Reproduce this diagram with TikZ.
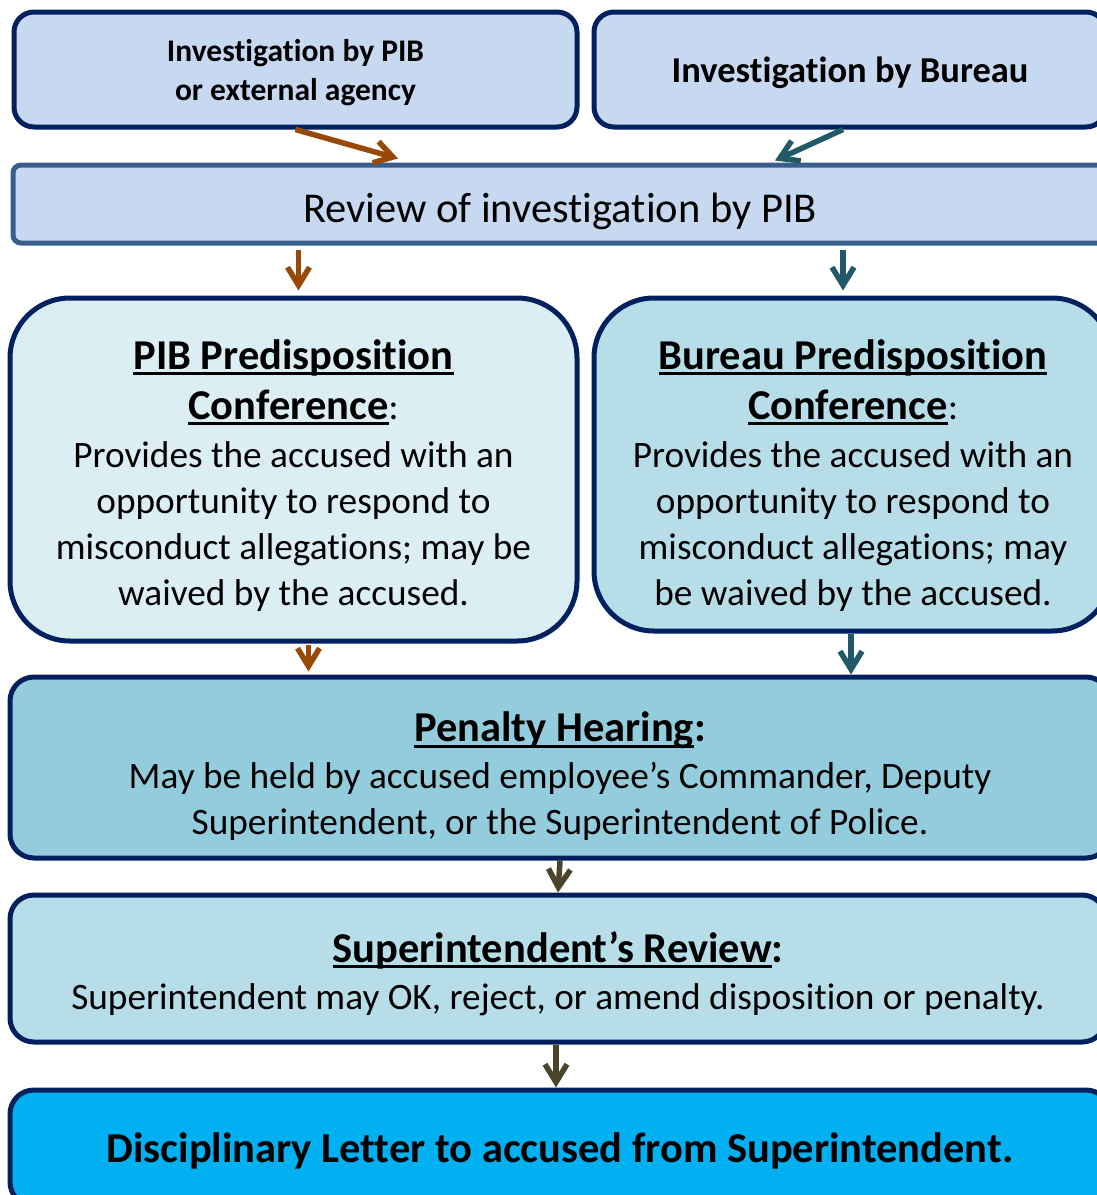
\documentclass[tikz,border=0pt]{standalone}
\usepackage{fontspec}
\setmainfont{Carlito}[Ligatures=NoCommon]
\usetikzlibrary{arrows.meta}
\definecolor{navy}{HTML}{002060}
\definecolor{steel}{HTML}{3A5E8C}
\definecolor{paleblue}{HTML}{C6D9F1}
\definecolor{iceblue}{HTML}{DBEEF4}
\definecolor{aquablue}{HTML}{B7DEE8}
\definecolor{midblue}{HTML}{93CDDD}
\definecolor{brightblue}{HTML}{00B0F0}
\definecolor{arrbrown}{HTML}{984807}
\definecolor{arrteal}{HTML}{215968}
\definecolor{arrolive}{HTML}{4A452A}
\newcommand{\hd}[1]{\setbox0\hbox{\fontsize{42.5}{50}\selectfont\bfseries #1}\rlap{\rule[-6pt]{\wd0}{3pt}}\box0}
\begin{document}
\begin{tikzpicture}[x=1pt,y=-1pt,>={Straight Barb[length=18pt,width=22pt]},
	box/.style={draw=navy, line width=5pt, inner sep=0pt},
	txt/.style={align=center, inner sep=0pt},
	body/.style={txt, font=\fontsize{37.3}{46}\selectfont},
	brownarr/.style={->, draw=arrbrown, line width=5.5pt},
	tealarr/.style={->, draw=arrteal, line width=5.5pt},
	olivearr/.style={->, draw=arrolive, line width=5.5pt}]
	\useasboundingbox (0,0) rectangle (1097,1195);
	
	% top row
	\node[box, fill=paleblue, rounded corners=20pt, minimum width=563pt, minimum height=115pt] (pibinv) at (295.5,69.5) {};
	\node[txt, font=\fontsize{31.5}{39}\selectfont\bfseries] (pibinvtxt) at ([yshift=-3pt]pibinv.center)
		{Investigation by PIB\\ or external agency};
	\node[box, fill=paleblue, rounded corners=20pt, minimum width=512pt, minimum height=115pt] (bureauinv) at (850,69.5) {};
	\node[txt, font=\fontsize{36.5}{40}\selectfont\bfseries] (bureauinvtxt) at ([yshift=-3pt]bureauinv.center)
		{Investigation by Bureau};
	\node[box, draw=steel, fill=paleblue, rounded corners=8pt, minimum width=1094pt, minimum height=78pt] (review) at (560,204) {};
	\node[txt, font=\fontsize{42.5}{46}\selectfont] (reviewtxt) at ([yshift=-7pt]review.center)
		{Review of investigation by PIB};
	
	% predisposition conferences
	\node[box, fill=iceblue, rounded corners=60pt, minimum width=567pt, minimum height=343pt] (pibpre) at (293.5,469.5) {};
	\node[body] (pibpretxt) at ([yshift=-6pt]pibpre.center)
		{\hd{PIB Predisposition}\\[4pt] \hd{Conference}:\\[2pt] Provides the accused with an\\ opportunity to respond to\\ misconduct allegations; may be\\ waived by the accused.};
	\node[box, fill=aquablue, rounded corners=60pt, minimum width=518pt, minimum height=333pt] (bureaupre) at (853,464.5) {};
	\node[body] (bureaupretxt) at ([yshift=-11pt]bureaupre.center)
		{\hd{Bureau Predisposition}\\[4pt] \hd{Conference}:\\[2pt] Provides the accused with an\\ opportunity to respond to\\ misconduct allegations; may\\ be waived by the accused.};
	
	% hearing, review, letter
	\node[box, fill=midblue, rounded corners=24pt, minimum width=1100pt, minimum height=181pt] (penalty) at (560,767.5) {};
	\node[body] (penaltytxt) at ([yshift=-9pt]penalty.center)
		{\hd{Penalty Hearing}\textbf{\fontsize{42.5}{50}\selectfont:}\\[1pt] May be held by accused employee’s Commander, Deputy\\ Superintendent, or the Superintendent of Police.};
	\node[box, fill=aquablue, rounded corners=24pt, minimum width=1096pt, minimum height=147pt] (superrev) at (558,968.5) {};
	\node[body] (superrevtxt) at ([yshift=-5pt]superrev.center)
		{\hd{Superintendent’s Review}\textbf{\fontsize{42.5}{50}\selectfont:}\\[1pt] Superintendent may OK, reject, or amend disposition or penalty.};
	\node[box, fill=brightblue, rounded corners=24pt, minimum width=1100pt, minimum height=116pt] (letter) at (560,1148) {};
	\node[txt, font=\fontsize{42.5}{46}\selectfont\bfseries] (lettertxt) at ([yshift=-3pt]letter.center)
		{Disciplinary Letter to accused from Superintendent.};
	
	% arrows
	\draw[brownarr] (pibinv.south) -- ([xshift=-162pt,yshift=4pt]review.north);
	\draw[tealarr] ([xshift=-7pt]bureauinv.south) -- ([xshift=215pt,yshift=2pt]review.north);
	\draw[brownarr, shorten <=4pt, shorten >=5pt] ([xshift=5pt]pibpre.north |- review.south) -- ([xshift=5pt]pibpre.north);
	\draw[tealarr, shorten <=4pt, shorten >=5pt] ([xshift=-10pt]bureaupre.north |- review.south) -- ([xshift=-10pt]bureaupre.north);
	\draw[brownarr, shorten <=1pt, shorten >=3pt] ([xshift=15pt]pibpre.south) -- ([xshift=15pt]pibpre.south |- penalty.north);
	\draw[tealarr] ([xshift=-2pt]bureaupre.south) -- ([xshift=-2pt]bureaupre.south |- penalty.north);
	\draw[olivearr] (penalty.south) -- (superrev.north);
	\draw[olivearr] ([xshift=-2pt]superrev.south) -- ([xshift=-2pt]superrev.south |- letter.north);
\end{tikzpicture}
\end{document}
